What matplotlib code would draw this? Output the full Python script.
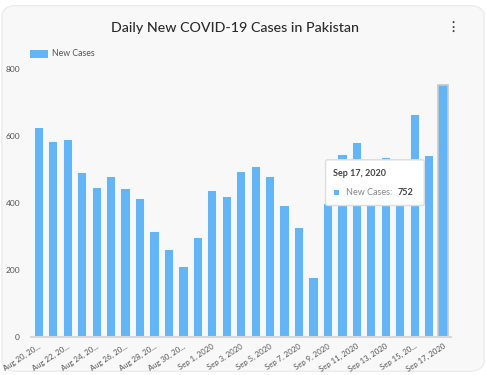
import matplotlib
matplotlib.use("Agg")
import matplotlib.pyplot as plt
import numpy as np
from matplotlib.patches import FancyBboxPatch, Rectangle

dates = ["Aug 20", "Aug 21", "Aug 22", "Aug 23", "Aug 24", "Aug 25", "Aug 26",
         "Aug 27", "Aug 28", "Aug 29", "Aug 30", "Aug 31", "Sep 1", "Sep 2",
         "Sep 3", "Sep 4", "Sep 5", "Sep 6", "Sep 7", "Sep 8", "Sep 9", "Sep 10",
         "Sep 11", "Sep 12", "Sep 13", "Sep 14", "Sep 15", "Sep 16", "Sep 17"]
new_cases = [627, 584, 590, 493, 448, 480, 444, 414, 316, 263, 211, 299, 439, 421,
             496, 511, 482, 393, 329, 179, 399, 546, 582, 487, 536, 404, 665, 543, 752]
tick_labels = ["Aug 20, 20...", "Aug 22, 20...", "Aug 24, 20...", "Aug 26, 20...",
               "Aug 28, 20...", "Aug 30, 20...", "Sep 1, 2020", "Sep 3, 2020",
               "Sep 5, 2020", "Sep 7, 2020", "Sep 9, 2020", "Sep 11, 2020",
               "Sep 13, 2020", "Sep 15, 20...", "Sep 17, 2020"]
y_ticks = [0, 200, 400, 600, 800]

plt.rcParams["font.family"] = ["Lato", "DejaVu Sans"]
blue = "#64b5f6"

fig = plt.figure(figsize=(4.86, 3.75), dpi=100)
fig.patch.set_facecolor("white")
# card background
card = FancyBboxPatch((0.004, 0.01), 0.992, 0.975, boxstyle="round,pad=0,rounding_size=0.03",
                      transform=fig.transFigure, facecolor="#f8f8f8", edgecolor="#ececec",
                      linewidth=1, zorder=-10)
fig.patches.append(card)

ax = fig.add_axes([0.064, 0.101, 0.864, 0.715])
ax.set_facecolor("none")
ax.set_zorder(1)

x = np.arange(len(dates))
bars = ax.bar(x, new_cases, width=0.64, color=blue, edgecolor="white", linewidth=0.6, zorder=2)
bars[-1].set_edgecolor("#c8c8c8")
bars[-1].set_linewidth(1.2)

ax.set_xlim(-0.5, 28.55)
ax.set_ylim(0, 800)
ax.set_yticks(y_ticks)
ax.set_yticklabels([str(v) for v in y_ticks], fontsize=6, color="#555555")
ax.set_xticks(x[::2])
ax.set_xticklabels(tick_labels, rotation=33, ha="right", rotation_mode="anchor",
                   fontsize=5.6, color="#555555")
ax.tick_params(axis="x", length=0, pad=4)
ax.tick_params(axis="y", length=0, pad=8)
for s in ["top", "right", "left"]:
    ax.spines[s].set_visible(False)
ax.spines["bottom"].set_color("#d8d8d8")
ax.spines["bottom"].set_linewidth(1.5)

# title
fig.text(0.484, 0.926, "Daily New COVID-19 Cases in Pakistan", ha="center", va="center",
         fontsize=10.3, color="#2b2b2b", fontweight="medium")
# menu dots
for dy in [0.0, 0.012, 0.024]:
    fig.text(0.932, 0.928 + dy - 0.012, "•", ha="center", va="center", fontsize=4, color="#444444")

# legend
fig.patches.append(Rectangle((0.062, 0.846), 0.036, 0.021, transform=fig.transFigure,
                             facecolor=blue, edgecolor="none"))
fig.text(0.106, 0.856, "New Cases", ha="left", va="center", fontsize=6.3, color="#555555")

# tooltip
tip = FancyBboxPatch((0.670, 0.452), 0.203, 0.122, boxstyle="round,pad=0,rounding_size=0.005",
                     transform=fig.transFigure, facecolor="white", edgecolor="#dddddd",
                     linewidth=1, zorder=5)
fig.patches.append(tip)
fig.text(0.686, 0.536, "Sep 17, 2020", ha="left", va="center", fontsize=6.5,
         color="#444444", fontweight="bold", zorder=6)
fig.patches.append(Rectangle((0.687, 0.481), 0.010, 0.012, transform=fig.transFigure,
                             facecolor=blue, edgecolor="none", zorder=6))
fig.text(0.711, 0.487, "New Cases:", ha="left", va="center", fontsize=6.5,
         color="#888888", zorder=6)
fig.text(0.818, 0.487, str(new_cases[-1]), ha="left", va="center", fontsize=6.5,
         color="#444444", fontweight="bold", zorder=6)

fig.savefig("out.png", dpi=100)
